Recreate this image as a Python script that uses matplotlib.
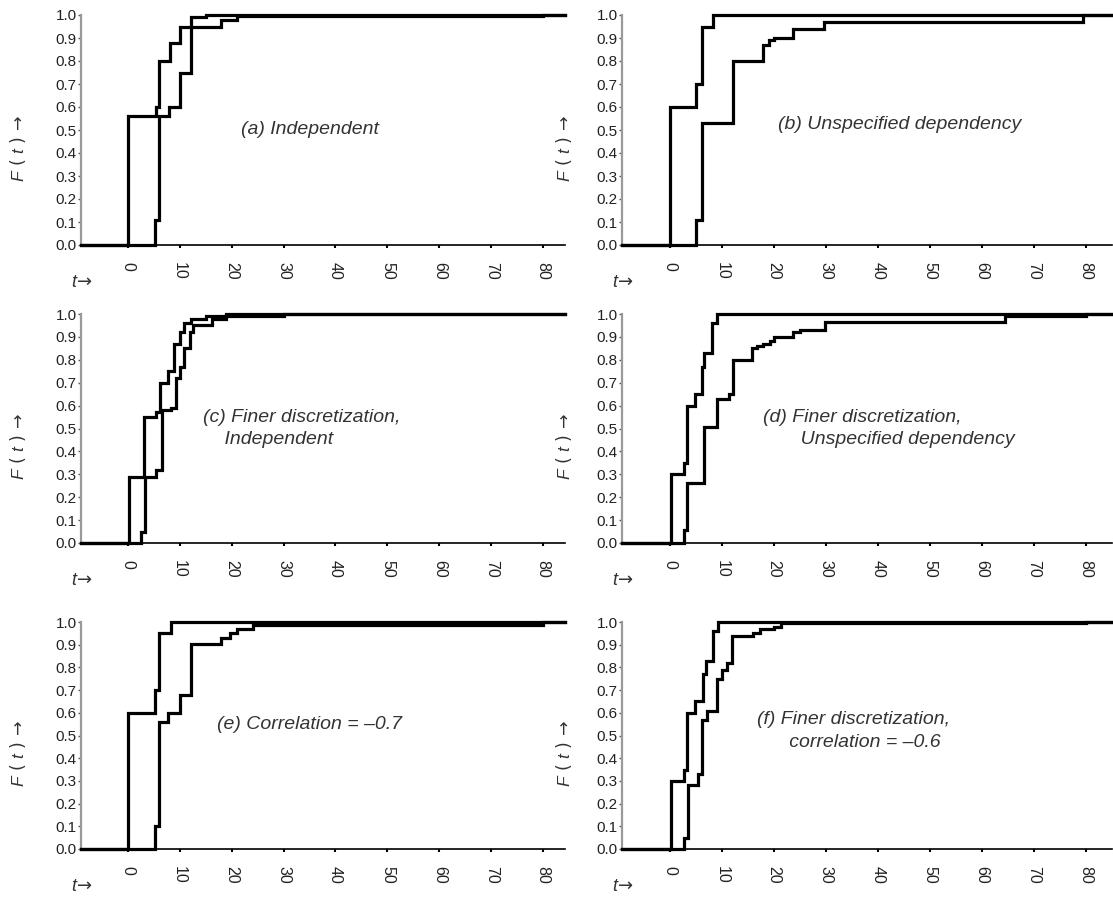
import matplotlib
matplotlib.use("Agg")
import matplotlib.pyplot as plt

plt.rcParams['font.family'] = ['Liberation Sans', 'DejaVu Sans']
plt.rcParams['mathtext.fontset'] = 'custom'
plt.rcParams['mathtext.it'] = 'Liberation Sans:italic'
plt.rcParams['mathtext.rm'] = 'Liberation Sans'

# ---- data: jump times and CDF values after each jump (upper / lower bounds) ----
a_upper_t = [0, 5.4, 6.0, 8.1, 10.0, 12.1, 15.0]
a_upper_F = [0.56, 0.60, 0.80, 0.88, 0.95, 0.99, 1.0]
a_lower_t = [5.2, 6.0, 8.0, 10.0, 12.1, 18.0, 21.0, 80.0]
a_lower_F = [0.11, 0.56, 0.60, 0.75, 0.95, 0.98, 0.995, 1.0]

b_upper_t = [0, 5.1, 6.1, 8.3]
b_upper_F = [0.60, 0.70, 0.95, 1.0]
b_lower_t = [5.1, 6.1, 12.2, 17.9, 19.0, 20.1, 23.7, 29.6, 79.4]
b_lower_F = [0.11, 0.53, 0.80, 0.87, 0.89, 0.90, 0.94, 0.97, 1.0]

c_upper_t = [0.3, 3.1, 5.5, 6.3, 7.7, 8.9, 10.0, 10.9, 12.2, 15.0, 19.0]
c_upper_F = [0.29, 0.55, 0.57, 0.70, 0.75, 0.87, 0.92, 0.96, 0.98, 0.99, 1.0]
c_lower_t = [2.6, 3.4, 5.5, 6.6, 8.4, 9.2, 10.0, 10.9, 11.9, 12.5, 16.3, 19.0, 30.0]
c_lower_F = [0.05, 0.29, 0.32, 0.58, 0.59, 0.72, 0.77, 0.85, 0.92, 0.95, 0.98, 0.99, 1.0]

d_upper_t = [0.2, 2.7, 3.2, 4.8, 6.1, 6.6, 8.1, 9.1]
d_upper_F = [0.30, 0.35, 0.60, 0.65, 0.77, 0.83, 0.96, 1.0]
d_lower_t = [2.7, 3.2, 6.6, 9.1, 11.4, 12.2, 15.8, 16.8, 18.0, 19.3, 20.1, 23.7, 25.0, 29.8, 64.4, 80.0]
d_lower_F = [0.055, 0.26, 0.505, 0.63, 0.65, 0.80, 0.85, 0.86, 0.87, 0.88, 0.90, 0.92, 0.93, 0.965, 0.99, 1.0]

e_upper_t = [0, 5.2, 6.0, 8.4]
e_upper_F = [0.60, 0.70, 0.95, 1.0]
e_lower_t = [5.2, 6.0, 7.8, 10.0, 12.1, 18.0, 19.6, 21.0, 24.1, 80.0]
e_lower_F = [0.10, 0.56, 0.60, 0.68, 0.905, 0.93, 0.95, 0.97, 0.985, 1.0]

f_upper_t = [0.2, 2.7, 3.2, 4.8, 6.4, 7.0, 8.3, 9.3]
f_upper_F = [0.30, 0.35, 0.60, 0.65, 0.77, 0.83, 0.96, 1.0]
f_lower_t = [2.7, 3.5, 5.4, 6.1, 7.1, 9.1, 10.1, 11.0, 12.0, 15.9, 17.4, 20.0, 21.3, 80.0]
f_lower_F = [0.05, 0.28, 0.33, 0.57, 0.61, 0.75, 0.79, 0.82, 0.94, 0.95, 0.97, 0.98, 0.995, 1.0]

panel_labels = ["(a) Independent",
                "(b) Unspecified dependency",
                "(c) Finer discretization,\n    Independent",
                "(d) Finer discretization,\n       Unspecified dependency",
                "(e) Correlation = \u20130.7",
                "(f) Finer discretization,\n      correlation = \u20130.6"]

x_ticks = [0, 10, 20, 30, 40, 50, 60, 70, 80]
y_ticks = [0.0, 0.1, 0.2, 0.3, 0.4, 0.5, 0.6, 0.7, 0.8, 0.9, 1.0]
y_ticklabels = ["0.0", "0.1", "0.2", "0.3", "0.4", "0.5", "0.6", "0.7", "0.8", "0.9", "1.0"]

panels = [
    (a_upper_t, a_upper_F, a_lower_t, a_lower_F),
    (b_upper_t, b_upper_F, b_lower_t, b_lower_F),
    (c_upper_t, c_upper_F, c_lower_t, c_lower_F),
    (d_upper_t, d_upper_F, d_lower_t, d_lower_F),
    (e_upper_t, e_upper_F, e_lower_t, e_lower_F),
    (f_upper_t, f_upper_F, f_lower_t, f_lower_F),
]

W, H = 1113, 902
fig = plt.figure(figsize=(W / 100, H / 100), dpi=100)

# layout in pixels: (left, right, xmin, xmax) for columns, (top, bottom) for rows
cols = [(81, 565, -9.0, 84.2), (622, 1112, -9.2, 85.0)]
rows = [(15, 245), (314, 543), (622, 849)]
# left-aligned annotation anchors (axes fraction)
text_pos = [(0.331, 0.50), (0.318, 0.525), (0.252, 0.50), (0.288, 0.50), (0.281, 0.55), (0.276, 0.52)]

for i, (ut, uF, lt, lF) in enumerate(panels):
    r, c = divmod(i, 2)
    left, right, xmin, xmax = cols[c]
    top, bottom = rows[r]
    w, h = right - left, bottom - top
    ax = fig.add_axes([left / W, 1 - bottom / H, w / W, h / H])
    ax.set_xlim(xmin, xmax)
    ax.set_ylim(0, 1)
    for tt, FF in ((lt, lF), (ut, uF)):
        xs = [xmin] + list(tt) + [xmax]
        ys = [0.0] + list(FF) + [FF[-1]]
        ax.plot(xs, ys, drawstyle='steps-post', color='black', lw=2.3,
                clip_on=False, solid_joinstyle='miter', zorder=3)
    for s in ('top', 'right'):
        ax.spines[s].set_visible(False)
    ax.spines['left'].set_color('#9a9a9a')
    ax.spines['left'].set_linewidth(1.6)
    ax.spines['bottom'].set_color('black')
    ax.spines['bottom'].set_linewidth(1.2)
    ax.set_xticks(x_ticks)
    ax.set_xticklabels([str(v) for v in x_ticks], rotation=270, fontsize=11.5, color='#222222')
    ax.tick_params(axis='x', direction='out', length=2, width=1.5, pad=10, color='black')
    ax.set_yticks(y_ticks)
    ax.set_yticklabels(y_ticklabels, fontsize=11, color='#222222')
    ax.tick_params(axis='y', direction='out', length=2, width=1, pad=1, color='#555555')
    # y label
    ax.text((-63 if c == 0 else -58) / w, 0.42, "$F$ ( $t$ ) \u2192",
            rotation=90, ha='center', va='center', family=['DejaVu Sans'],
            fontsize=12.5, color='#333333', transform=ax.transAxes, clip_on=False)
    # t label
    ax.text(1 / w, -37 / h, "$t$\u2192", family=['DejaVu Sans'],
            ha='center', va='center', fontsize=13, color='#333333',
            transform=ax.transAxes, clip_on=False)
    tx, ty = text_pos[i]
    ax.text(tx, ty, panel_labels[i], ha='left', va='center', multialignment='left',
            fontsize=14, style='italic', color='#333333', transform=ax.transAxes,
            linespacing=1.45)

fig.savefig("out.png", dpi=100, facecolor='white')
